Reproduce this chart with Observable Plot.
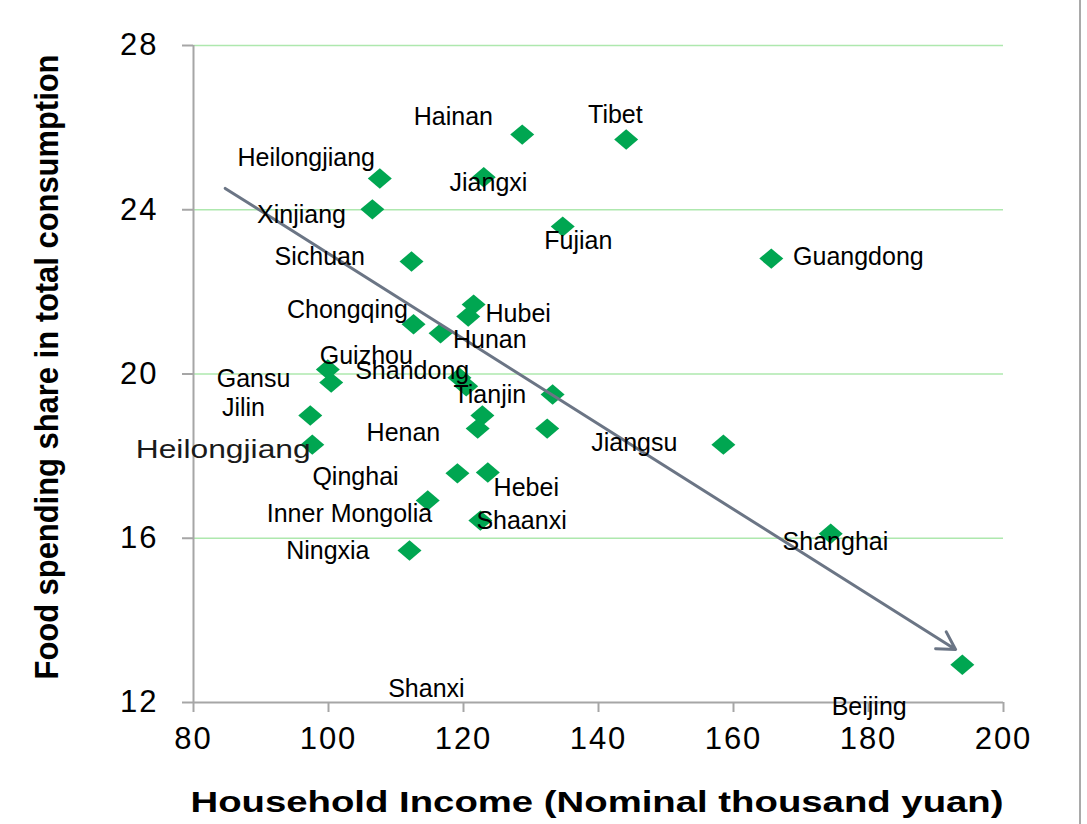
<!DOCTYPE html>
<html><head><meta charset="utf-8">
<script src="https://cdn.jsdelivr.net/npm/d3@7"></script>
<script src="https://cdn.jsdelivr.net/npm/@observablehq/plot@0.6"></script>
<style>
body{margin:0;background:#fff;}
#chart{position:relative;width:1087px;height:824px;overflow:hidden;}
</style>
</head><body><div id="chart"></div>
<script>
// Household income (nominal thousand yuan) and food share of consumption (%) per province
const income    = [128.7,144.1,107.6,123.0,106.5,134.7,112.3,165.6,121.5,120.7,112.6,116.6,99.9,100.4,119.4,120.4,97.3,122.8,122.1,133.2,132.4,158.5,97.6,119.1,123.6,114.7,122.5,112.0,174.4,193.9];
const foodShare = [25.83,25.71,24.76,24.79,24.01,23.59,22.74,22.81,21.69,21.40,21.21,20.99,20.11,19.79,19.91,19.70,18.99,18.99,18.67,19.50,18.67,18.28,18.28,17.58,17.60,16.92,16.43,15.70,16.11,12.92];

// Data labels as placed in the chart
const labelNames  = ["Hainan","Tibet","Heilongjiang","Jiangxi","Xinjiang","Fujian","Sichuan","Guangdong","Chongqing","Hubei","Hunan","Guizhou","Shandong","Gansu","Jilin","Tianjin","Henan","Jiangsu","Heilongjiang","Qinghai","Hebei","Inner Mongolia","Shaanxi","Ningxia","Shanghai","Shanxi","Beijing"];
const labelIncome = [118.5,142.5,96.7,123.7,96.0,137.0,98.7,178.5,102.8,128.1,123.9,105.6,112.4,88.9,87.4,123.9,111.1,145.3,84.4,104.0,129.3,103.1,128.6,99.9,175.1,114.5,180.1];
const labelShare  = [26.25,26.30,25.25,24.66,23.86,23.23,22.86,22.86,21.55,21.45,20.84,20.45,20.08,19.89,19.18,19.50,18.57,18.31,18.14,17.48,17.23,16.58,16.41,15.70,15.90,12.32,11.88];

// Trend arrow (start / end in data units)
const trendIncome = [84.7, 192.9];
const trendShare  = [24.52, 13.29];

const xTicks = [80,100,120,140,160,180,200];
const yTicks = [12,16,20,24,28];
const gridTicks = [16,20,24,28];

const xTitle = "Household Income (Nominal thousand yuan)";
const yTitle = "Food spending share in total consumption";

const points = income.map((v,i)=>({income:v, share:foodShare[i]}));
const labels = labelNames.map((n,i)=>({name:n, income:labelIncome[i], share:labelShare[i]}));
const trend = [{x1:trendIncome[0], y1:trendShare[0], x2:trendIncome[1], y2:trendShare[1]}];

const diamond = {
  draw(ctx, size){
    const r = Math.sqrt(size/Math.PI);
    const h = r*0.85;
    ctx.moveTo(0,-h); ctx.lineTo(r,0); ctx.lineTo(0,h); ctx.lineTo(-r,0); ctx.closePath();
  }
};

const font = "'Liberation Sans', Arial, Helvetica, sans-serif";

const chart = Plot.plot({
  width:1087, height:824,
  marginLeft:193, marginRight:84, marginTop:45, marginBottom:122,
  style:{fontFamily:font, background:"#fff", color:"#000"},
  x:{domain:[80,200], ticks:xTicks, label:null},
  y:{domain:[12,28], ticks:yTicks, label:null},
  marks:[
    Plot.ruleY(gridTicks, {stroke:"#aee8ae", strokeWidth:1.3}),
    Plot.ruleX([80], {y1:12, y2:28, stroke:"#a6a6a6", strokeWidth:2}),
    Plot.ruleY([12], {stroke:"#a6a6a6", strokeWidth:2}),
    Plot.axisY({ticks:yTicks, tickSize:11, tickPadding:24, fontSize:31, stroke:"#a6a6a6", strokeWidth:2, fill:"#000", label:null, tickFormat:d=>String(d)}),
    Plot.axisX({ticks:xTicks, tickSize:10, tickPadding:14, fontSize:31, stroke:"#a6a6a6", strokeWidth:2, fill:"#000", label:null, tickFormat:d=>String(d)}),
    Plot.dot(points, {x:"income", y:"share", symbol:diamond, r:12, fill:"#00a651", stroke:"none"}),
    Plot.arrow(trend, {x1:"x1", y1:"y1", x2:"x2", y2:"y2", stroke:"#6b7585", strokeWidth:3, headLength:10, headAngle:60}),
    Plot.text(labels, {x:"income", y:"share", text:"name", fontSize:25, fill:"#000", textAnchor:"middle", fontFamily:font})
  ]
});

const svg = d3.select(chart);
svg.selectAll('g[aria-label="y-axis tick label"] text, g[aria-label="x-axis tick label"] text').style("letter-spacing","2px");

// the lower Heilongjiang label is drawn wider in the original
svg.selectAll('g[aria-label="text"] text').filter((d,i,n)=>n[i].textContent==="Heilongjiang" && i===18)
  .attr("textLength",175).attr("lengthAdjust","spacingAndGlyphs").attr("fill","#1a1a1a");

svg.append("text")
  .attr("x", 597).attr("y", 812)
  .attr("text-anchor","middle")
  .attr("font-family", font).attr("font-weight","bold").attr("font-size", 30)
  .attr("textLength", 813).attr("lengthAdjust","spacingAndGlyphs")
  .attr("fill","#000")
  .text(xTitle);

svg.append("text")
  .attr("transform","translate(58,367) rotate(-90)")
  .attr("text-anchor","middle")
  .attr("font-family", "'Liberation Sans Narrow', " + font).attr("font-weight","bold").attr("font-size", 34)
  .attr("textLength", 625).attr("lengthAdjust","spacingAndGlyphs")
  .attr("fill","#000")
  .text(yTitle);

svg.append("line")
  .attr("x1",1080).attr("x2",1080).attr("y1",0).attr("y2",824)
  .attr("stroke","#8c8c8c").attr("stroke-width",1.5);

document.getElementById("chart").appendChild(chart);
</script>
</body></html>
